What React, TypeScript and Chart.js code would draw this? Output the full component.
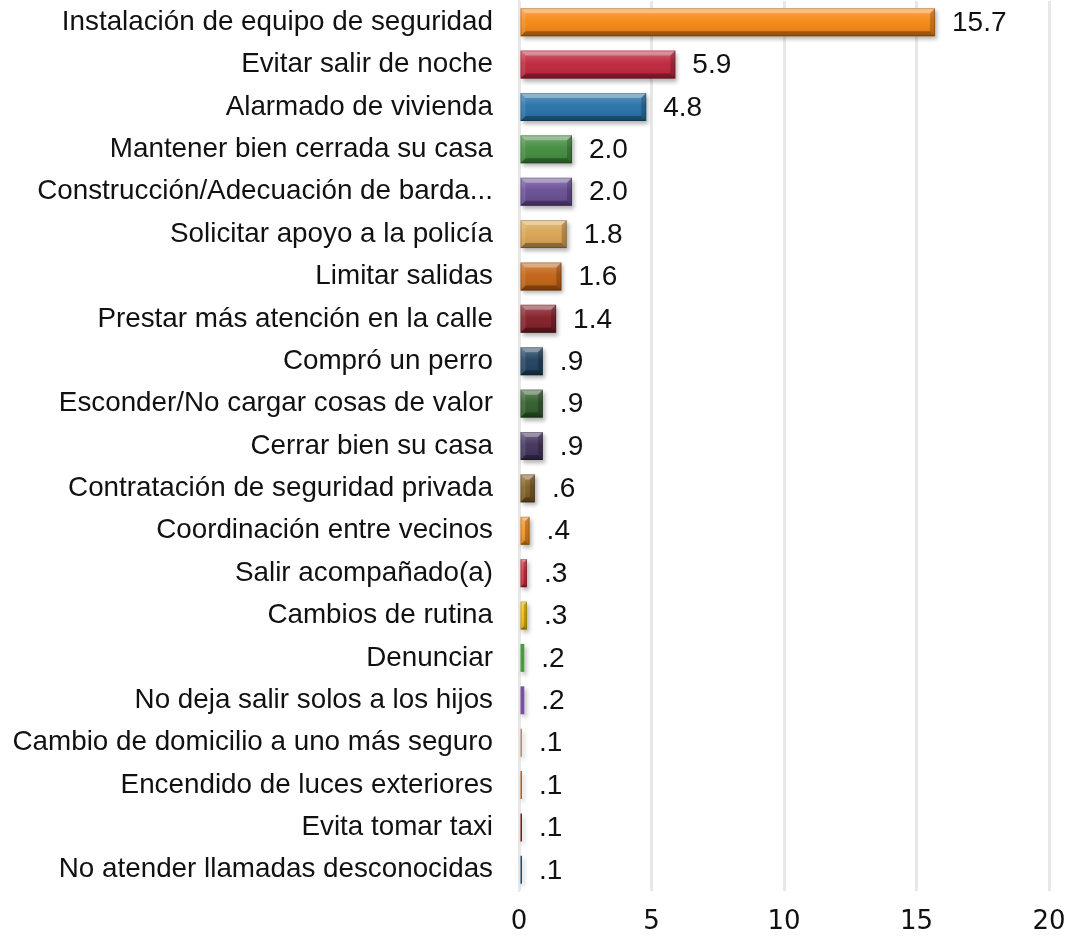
import React, { useEffect, useRef } from "react";
import { Chart, registerables } from "chart.js";

Chart.register(...registerables);

const categories: string[] = [
  "Instalación de equipo de seguridad",
  "Evitar salir de noche",
  "Alarmado de vivienda",
  "Mantener bien cerrada su casa",
  "Construcción/Adecuación de barda...",
  "Solicitar apoyo a la policía",
  "Limitar salidas",
  "Prestar más atención en la calle",
  "Compró un perro",
  "Esconder/No cargar cosas de valor",
  "Cerrar bien su casa",
  "Contratación de seguridad privada",
  "Coordinación entre vecinos",
  "Salir acompañado(a)",
  "Cambios de rutina",
  "Denunciar",
  "No deja salir solos a los hijos",
  "Cambio de domicilio a uno más seguro",
  "Encendido de luces exteriores",
  "Evita tomar taxi",
  "No atender llamadas desconocidas",
];

const values: number[] = [
  15.7, 5.9, 4.8, 2.0, 2.0, 1.8, 1.6, 1.4, 0.9, 0.9, 0.9, 0.6, 0.4, 0.3, 0.3,
  0.2, 0.2, 0.1, 0.1, 0.1, 0.1,
];

const barColors: string[] = [
  "#F5850F", "#BE2238", "#236FA6", "#3E8A3A", "#654A93", "#D9A24F",
  "#C0600F", "#7F1A22", "#1C3E5E", "#2D5A27", "#3D2E58", "#7B5A1E",
  "#F28A17", "#D0283A", "#F2BE00", "#4A9A40", "#7B4FA3", "#A8926E",
  "#BC5E0E", "#751A22", "#1E4B70",
];

const xTicks: number[] = [0, 5, 10, 15, 20];

const fmt = (v: number) => (v < 1 ? v.toFixed(1).replace(/^0/, "") : v.toFixed(1));

const bevelPlugin = {
  id: "bevel",
  beforeDatasetsDraw(chart: any) {
    const ctx = chart.ctx;
    ctx.save();
    ctx.shadowColor = "rgba(0,0,0,0.3)";
    ctx.shadowBlur = 4;
    ctx.shadowOffsetX = 2;
    ctx.shadowOffsetY = 3;
  },
  afterDatasetsDraw(chart: any) {
    const ctx = chart.ctx;
    ctx.restore();
    const meta = chart.getDatasetMeta(0);
    meta.data.forEach((bar: any, i: number) => {
      const x0 = bar.base;
      const x1 = bar.x;
      const y0 = bar.y - bar.height / 2;
      const y1 = bar.y + bar.height / 2;
      const w = x1 - x0;
      const h = y1 - y0;
      if (w >= 6) {
        const b = Math.min(5, w / 2, h / 2);
        ctx.save();
        const g = ctx.createLinearGradient(0, y0, 0, y1);
        g.addColorStop(0, "rgba(255,255,255,0.28)");
        g.addColorStop(0.45, "rgba(255,255,255,0.05)");
        g.addColorStop(1, "rgba(0,0,0,0.12)");
        ctx.fillStyle = g;
        ctx.fillRect(x0, y0, w, h);
        const poly = (pts: number[][], color: string) => {
          ctx.beginPath();
          ctx.moveTo(pts[0][0], pts[0][1]);
          for (let k = 1; k < pts.length; k++) ctx.lineTo(pts[k][0], pts[k][1]);
          ctx.closePath();
          ctx.fillStyle = color;
          ctx.fill();
        };
        poly([[x0, y0], [x1, y0], [x1 - b, y0 + b], [x0 + b, y0 + b]], "rgba(255,255,255,0.32)");
        poly([[x0, y1], [x1, y1], [x1 - b, y1 - b], [x0 + b, y1 - b]], "rgba(0,0,0,0.3)");
        poly([[x0, y0], [x0 + b, y0 + b], [x0 + b, y1 - b], [x0, y1]], "rgba(255,255,255,0.1)");
        poly([[x1, y0], [x1 - b, y0 + b], [x1 - b, y1 - b], [x1, y1]], "rgba(0,0,0,0.2)");
        ctx.strokeStyle = "rgba(0,0,0,0.2)";
        ctx.lineWidth = 1;
        ctx.strokeRect(x0 + 0.5, y0 + 0.5, Math.max(w - 1, 0), h - 1);
        ctx.restore();
      }

      ctx.save();
      ctx.font = "28px 'Liberation Sans', Arial, sans-serif";
      ctx.fillStyle = "#111";
      ctx.textAlign = "left";
      ctx.textBaseline = "middle";
      ctx.fillText(fmt(values[i]), x1 + 17, bar.y + 1);
      ctx.restore();
    });
  },
};

export default function App() {
  const ref = useRef<HTMLCanvasElement | null>(null);
  useEffect(() => {
    if (!ref.current) return;
    const chart = new Chart(ref.current, {
      type: "bar",
      data: {
        labels: categories,
        datasets: [
          {
            data: values,
            backgroundColor: barColors,
            borderWidth: 0,
            categoryPercentage: 0.66,
            barPercentage: 1,
            minBarLength: 3,
          },
        ],
      },
      options: {
        indexAxis: "y",
        animation: false,
        responsive: true,
        maintainAspectRatio: false,
        layout: { padding: { left: 0, right: 34, top: 1, bottom: 0 } },
        plugins: {
          legend: { display: false },
          tooltip: { enabled: false },
        },
        scales: {
          x: {
            min: 0,
            max: 20,
            afterBuildTicks: (scale: any) => {
              scale.ticks = xTicks.map((v) => ({ value: v }));
            },
            afterFit: (scale: any) => {
              scale.height = 48;
              scale.paddingLeft = 0;
              scale.paddingRight = 0;
            },
            grid: { color: "#e8e8e8", lineWidth: 3, drawTicks: false },
            border: { display: false },
            ticks: {
              padding: 16,
              color: "#111",
              font: { family: "'DejaVu Sans', sans-serif", size: 26 },
            },
          },
          y: {
            afterFit: (scale: any) => {
              scale.width = 519;
              scale.paddingTop = 0;
              scale.paddingBottom = 0;
            },
            grid: { display: false, drawTicks: false },
            border: { display: true, color: "#e8e8e8", width: 2 },
            ticks: {
              padding: 26,
              color: "#111",
              autoSkip: false,
              font: { family: "'Liberation Sans', Arial, sans-serif", size: 27.8 },
            },
          },
        },
      },
      plugins: [bevelPlugin],
    });
    return () => chart.destroy();
  }, []);
  return (
    <div style={{ position: "fixed", left: 0, top: 0, width: 1083, height: 939, background: "#fff" }}>
      <canvas ref={ref} />
    </div>
  );
}
